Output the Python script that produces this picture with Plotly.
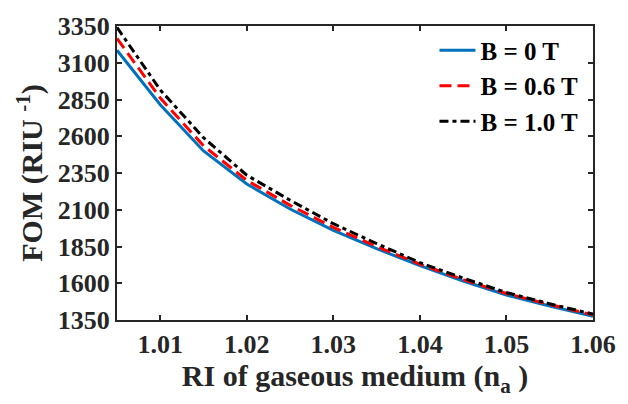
import plotly.graph_objects as go

ri = [1.005, 1.01, 1.015, 1.02, 1.025, 1.03, 1.035, 1.04, 1.045, 1.05, 1.055, 1.06]
fom_b0 = [3185, 2815, 2500, 2275, 2105, 1960, 1835, 1720, 1615, 1520, 1445, 1375]
fom_b06 = [3265, 2860, 2535, 2300, 2130, 1980, 1850, 1730, 1625, 1530, 1455, 1385]
fom_b10 = [3340, 2915, 2590, 2335, 2165, 2005, 1870, 1740, 1635, 1537, 1460, 1390]
names = ["B = 0 T", "B = 0.6 T", "B = 1.0 T"]

y_ticks = [1350, 1600, 1850, 2100, 2350, 2600, 2850, 3100, 3350]
x_ticks = [1.01, 1.02, 1.03, 1.04, 1.05, 1.06]
x_labels = ["1.01", "1.02", "1.03", "1.04", "1.05", "1.06"]

FONT = "Liberation Serif, Times New Roman, serif"
INK = "#262626"

fig = go.Figure()
fig.add_trace(go.Scatter(x=ri, y=fom_b0, mode="lines", name=names[0],
                         line=dict(color="#0072BD", width=3, dash="solid")))
fig.add_trace(go.Scatter(x=ri, y=fom_b06, mode="lines", name=names[1],
                         line=dict(color="#FF0000", width=3, dash="12px,6px")))
fig.add_trace(go.Scatter(x=ri, y=fom_b10, mode="lines", name=names[2],
                         line=dict(color="#000000", width=3, dash="9px,4px,4px,4px")))

axis_common = dict(showline=True, linecolor=INK, linewidth=2, mirror="ticks",
                   ticks="inside", ticklen=5, tickwidth=1.5, tickcolor=INK,
                   showgrid=False, zeroline=False,
                   tickfont=dict(family=FONT, size=26, color=INK, weight="bold"))

fig.update_xaxes(range=[1.005, 1.06], tickvals=x_ticks, ticktext=x_labels,
                 title=dict(text="RI of gaseous medium (n<sub>a</sub> )",
                            font=dict(family=FONT, size=30, color=INK, weight="bold"),
                            standoff=4),
                 **axis_common)
fig.update_yaxes(range=[1350, 3350], tickvals=y_ticks,
                 title=dict(text="FOM (RIU <sup>-1</sup>)",
                            font=dict(family=FONT, size=30, color=INK, weight="bold"),
                            standoff=6),
                 **axis_common)

fig.update_layout(
    width=628, height=404,
    margin=dict(l=117, r=31, t=22, b=84),
    plot_bgcolor="white", paper_bgcolor="white",
    font=dict(family=FONT, color=INK),
    legend=dict(x=0.98, y=0.995, xanchor="right", yanchor="top",
                bgcolor="rgba(255,255,255,0)", borderwidth=0,
                font=dict(family=FONT, size=25, color="#000000", weight="bold"),
                tracegroupgap=0, itemwidth=36),
    showlegend=True,
)

fig.write_html("out.html")
